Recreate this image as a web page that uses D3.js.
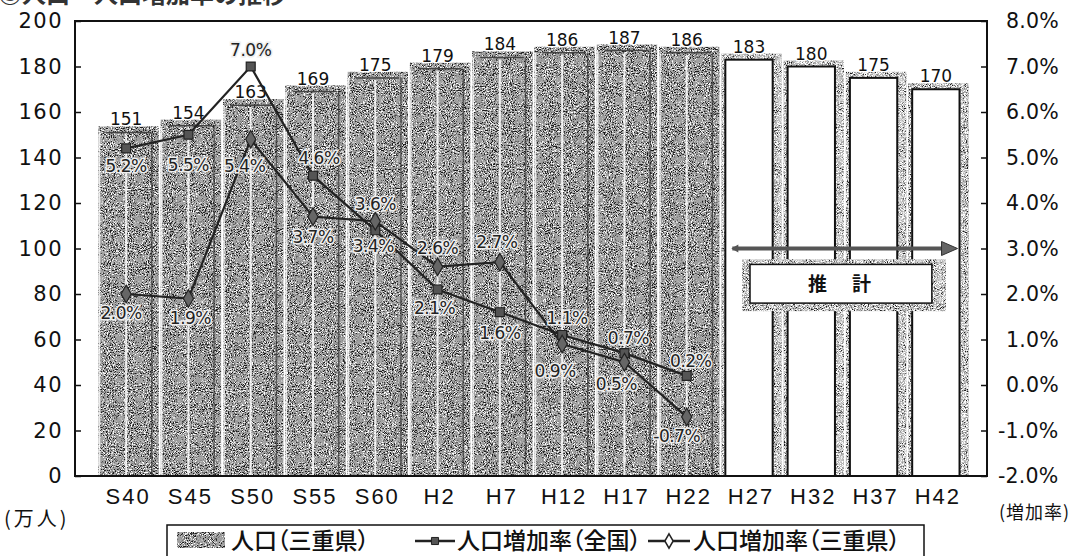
<!DOCTYPE html>
<html><head><meta charset="utf-8">
<script src="https://cdn.jsdelivr.net/npm/d3@7"></script>
<style>
html,body{margin:0;padding:0;background:#fff;}
svg{display:block;}
</style></head>
<body>
<svg id="chart" width="1072" height="556"></svg>
<script>
// ---- data ----
const categories = ["S40","S45","S50","S55","S60","H2","H7","H12","H17","H22","H27","H32","H37","H42"];
const population = [151,154,163,169,175,179,184,186,187,186,183,180,175,170];
const projectionFrom = "H27";
const rateCategories = ["S40","S45","S50","S55","S60","H2","H7","H12","H17","H22"];
const nationalRate = [5.2,5.5,7.0,4.6,3.4,2.1,1.6,1.1,0.7,0.2];
const mieRate = [2.0,1.9,5.4,3.7,3.6,2.6,2.7,0.9,0.5,-0.7];
const leftTicks = [0,20,40,60,80,100,120,140,160,180,200];
const rightTicks = [-2,-1,0,1,2,3,4,5,6,7,8];
const legendLabels = ["人口（三重県）","人口増加率（全国）","人口増加率（三重県）"];
const titleText = "◎人口・人口増加率の推移";
const leftUnit = "(万人)";
const rightUnit = "(増加率)";
const projectionLabel = "推　計";
// label placement (layout only)
const natLabelOffset = [[0,18],[0,30],[0,-16],[6,-18],[-2,16],[-3,19],[0,21],[5,-17],[4,-15],[4,-15]];
const mieLabelOffset = [[-5,19],[2,19],[-6,27],[0,20],[0,-17],[0,-19],[-3,-20],[-7,27],[-8,22],[-10,19]];

const svg = d3.select("#chart");
const defs = svg.append("defs");
function grain(id, darkA, darkB, lightA, lightB, seed){
  const f = defs.append("filter").attr("id",id).attr("x",0).attr("y",0).attr("width",1).attr("height",1)
    .attr("color-interpolation-filters","sRGB");
  f.append("feTurbulence").attr("type","fractalNoise").attr("baseFrequency",0.95).attr("numOctaves",2).attr("seed",seed).attr("result","n");
  f.append("feColorMatrix").attr("in","n").attr("type","matrix")
    .attr("values",`0 0 0 0 0.1  0 0 0 0 0.1  0 0 0 0 0.1  ${darkA} 0 0 0 ${darkB}`).attr("result","dark");
  f.append("feColorMatrix").attr("in","n").attr("type","matrix")
    .attr("values",`0 0 0 0 1  0 0 0 0 1  0 0 0 0 1  0 ${lightA} 0 0 ${lightB}`).attr("result","light");
  f.append("feComposite").attr("in","dark").attr("in2","SourceGraphic").attr("operator","in").attr("result","d2");
  f.append("feComposite").attr("in","light").attr("in2","SourceGraphic").attr("operator","in").attr("result","l2");
  const fm = f.append("feMerge");
  fm.append("feMergeNode").attr("in","SourceGraphic");
  fm.append("feMergeNode").attr("in","l2");
  fm.append("feMergeNode").attr("in","d2");
}
grain("grain", 7, -3.75, -7, 3.3, 5);
grain("grainLight", 6, -3.4, -6, 3.4, 9);

const L = 75, R = 987, T = 21, B = 476;
const x = d3.scaleBand().domain(categories).range([95,967]).paddingInner(0.24).paddingOuter(0.12);
const y = d3.scaleLinear().domain([0,200]).range([B,T]);
const y2 = d3.scaleLinear().domain([-2,8]).range([B,T]);
const bw = x.bandwidth();
const projIdx = categories.indexOf(projectionFrom);
const cx = c => x(c) + bw/2;

const font = "'DejaVu Sans', sans-serif";
const cjk = "'Noto Sans CJK JP', sans-serif";

// title (cut at the top, as in the scan)
svg.append("text").attr("x",-2).attr("y",3).attr("font-family",cjk).attr("font-size",24).attr("font-weight",700)
  .attr("fill","#333").text(titleText);

const data = categories.map((c,i)=>({c, v:population[i], proj:i>=projIdx}));

// shadows
svg.append("g").selectAll("rect").data(data).join("rect")
  .attr("x",d=>x(d.c)-4).attr("y",d=>y(d.v)-6).attr("width",bw+13).attr("height",d=>B-y(d.v)+6)
  .attr("fill",d=>d.proj?"#b0b0b0":"#a0a0a0").attr("filter",d=>d.proj?"url(#grainLight)":"url(#grain)");

// bars
const gb = svg.append("g");
gb.selectAll("rect").data(data).join("rect")
  .attr("x",d=>x(d.c)).attr("y",d=>y(d.v)).attr("width",bw).attr("height",d=>B-y(d.v))
  .attr("fill",d=>d.proj?"#fff":"#a0a0a0")
  .attr("stroke",d=>d.proj?"#111":"none").attr("stroke-width",2)
  .attr("filter",d=>d.proj?null:"url(#grain)");
// scan stripes on grey bars
const hist = data.filter(d=>!d.proj);
gb.selectAll("line.c").data(hist).join("line").attr("class","c")
  .attr("x1",d=>cx(d.c)).attr("x2",d=>cx(d.c)).attr("y1",d=>y(d.v)+2).attr("y2",B)
  .attr("stroke","#fff").attr("stroke-width",2).attr("opacity",0.85);
gb.selectAll("line.l").data(hist).join("line").attr("class","l")
  .attr("x1",d=>x(d.c)-3).attr("x2",d=>x(d.c)-3).attr("y1",d=>y(d.v)).attr("y2",B)
  .attr("stroke","#fff").attr("stroke-width",1.5).attr("opacity",0.8);
gb.selectAll("line.r").data(hist).join("line").attr("class","r")
  .attr("x1",d=>x(d.c)+bw+2).attr("x2",d=>x(d.c)+bw+2).attr("y1",d=>y(d.v)).attr("y2",B)
  .attr("stroke","#333").attr("stroke-width",1.5).attr("opacity",0.7);
gb.selectAll("line.t").data(hist).join("line").attr("class","t")
  .attr("x1",d=>x(d.c)+4).attr("x2",d=>x(d.c)+bw).attr("y1",d=>y(d.v)).attr("y2",d=>y(d.v))
  .attr("stroke","#444").attr("stroke-width",1.5);

// bar value labels
svg.append("g").selectAll("text").data(data).join("text")
  .attr("x",d=>cx(d.c)).attr("y",d=>y(d.v)-7).attr("text-anchor","middle")
  .attr("font-family",font).attr("font-size",17).attr("fill","#111")
  .attr("stroke","#fff").attr("stroke-width",2.5).attr("paint-order","stroke")
  .text(d=>d.v);

// lines
const natData = rateCategories.map((c,i)=>({c,v:nationalRate[i],o:natLabelOffset[i]}));
const mieData = rateCategories.map((c,i)=>({c,v:mieRate[i],o:mieLabelOffset[i]}));
const line = d3.line().x(d=>cx(d.c)).y(d=>y2(d.v));
svg.append("path").datum(natData).attr("d",line).attr("fill","none").attr("stroke","#222").attr("stroke-width",2.2);
svg.append("path").datum(mieData).attr("d",line).attr("fill","none").attr("stroke","#222").attr("stroke-width",2.2);
svg.append("g").selectAll("path").data(natData).join("path")
  .attr("d",d3.symbol(d3.symbolSquare,80)).attr("transform",d=>`translate(${cx(d.c)},${y2(d.v)})`)
  .attr("fill","#555").attr("stroke","#222").attr("stroke-width",1.2);
svg.append("g").selectAll("path").data(mieData).join("path")
  .attr("d",d3.symbol(d3.symbolDiamond,90)).attr("transform",d=>`translate(${cx(d.c)},${y2(d.v)})`)
  .attr("fill","#666").attr("stroke","#222").attr("stroke-width",1.2);

function pctLabels(arr){
  svg.append("g").selectAll("text").data(arr).join("text")
    .attr("x",d=>cx(d.c)+d.o[0]).attr("y",d=>y2(d.v)+d.o[1]).attr("dy","0.35em").attr("text-anchor","middle")
    .attr("font-family",font).attr("font-size",17).attr("fill","#222").attr("letter-spacing",-0.5)
    .attr("stroke","#eee").attr("stroke-width",3).attr("paint-order","stroke")
    .text(d=>d.v.toFixed(1)+"%");
}
pctLabels(natData); pctLabels(mieData);

// projection arrow + box
const ax1 = x(projectionFrom)+7, ax2 = x("H42")+bw-2;
const ay = y2(3);
svg.append("line").attr("x1",ax1).attr("x2",ax2-12).attr("y1",ay).attr("y2",ay).attr("stroke","#555").attr("stroke-width",4);
svg.append("path").attr("d",`M${ax2-16},${ay-7}L${ax2},${ay}L${ax2-16},${ay+7}Z`).attr("fill","#666").attr("stroke","#333");
svg.append("path").attr("d",`M${ax1+6},${ay-4}L${ax1-1},${ay}L${ax1+6},${ay+4}`).attr("fill","#555");
const bx1 = cx(projectionFrom)+1, bx2 = cx("H42")-4, by1 = y2(2.65), by2 = y2(1.8);
svg.append("rect").attr("x",bx1-8).attr("y",by1-5).attr("width",bx2-bx1+22).attr("height",by2-by1+13)
  .attr("fill","#b0b0b0").attr("filter","url(#grainLight)");
svg.append("rect").attr("x",bx1).attr("y",by1).attr("width",bx2-bx1).attr("height",by2-by1)
  .attr("fill","#fff").attr("stroke","#111").attr("stroke-width",1.5);
svg.append("text").attr("x",(bx1+bx2)/2).attr("y",(by1+by2)/2).attr("dy","0.36em").attr("text-anchor","middle")
  .attr("font-family",cjk).attr("font-size",19).attr("font-weight",700).attr("letter-spacing",3).attr("fill","#111")
  .text(projectionLabel);

// frame
svg.append("rect").attr("x",L).attr("y",T).attr("width",R-L).attr("height",B-T).attr("fill","none").attr("stroke","#111").attr("stroke-width",2);

// left axis
const gl = svg.append("g").attr("transform",`translate(${L},0)`)
  .call(d3.axisLeft(y).tickValues(leftTicks).tickSize(-6).tickPadding(12).tickFormat(d3.format("d")));
gl.select(".domain").remove();
gl.selectAll("line").attr("stroke","#111").attr("stroke-width",1.5);
gl.selectAll("text").attr("font-family",font).attr("font-size",21).attr("fill","#111").attr("letter-spacing",1.5);

// right axis
const gr = svg.append("g").attr("transform",`translate(${R},0)`)
  .call(d3.axisRight(y2).tickValues(rightTicks).tickSize(-6).tickPadding(19).tickFormat(d=>d.toFixed(1)+"%"));
gr.select(".domain").remove();
gr.selectAll("line").attr("stroke","#111").attr("stroke-width",1.5);
gr.selectAll("text").attr("font-family",font).attr("font-size",20.5).attr("fill","#111").attr("letter-spacing",0.2)
  .attr("dx",d=>d<0?-8:0);

// bottom axis
const gx = svg.append("g").attr("transform",`translate(0,${B})`)
  .call(d3.axisBottom(x).tickSize(0).tickPadding(12));
gx.select(".domain").remove();
gx.selectAll("text").attr("font-family","'Liberation Sans Narrow','Liberation Sans',sans-serif").attr("font-size",22)
  .attr("letter-spacing",2).attr("fill","#111").attr("dx",2);

// unit labels
svg.append("text").attr("x",4).attr("y",526).attr("font-family",cjk).attr("font-size",20).attr("letter-spacing",3).attr("fill","#111").text(leftUnit);
svg.append("text").attr("x",999).attr("y",519).attr("font-family",cjk).attr("font-size",18).attr("letter-spacing",1).attr("fill","#111").text(rightUnit);

// legend
const lg = svg.append("g");
lg.append("rect").attr("x",167).attr("y",525).attr("width",757).attr("height",40).attr("fill","#fff").attr("stroke","#111").attr("stroke-width",1.5);
lg.append("rect").attr("x",177).attr("y",532).attr("width",48).attr("height",16).attr("fill","#a0a0a0").attr("filter","url(#grain)");
const ly = 541;
const lt = (xx,s,anchor)=>lg.append("text").attr("x",xx).attr("y",ly).attr("dy","0.36em").attr("font-family",cjk)
  .attr("text-anchor",anchor||"start").style("font-feature-settings","'palt'")
  .attr("font-size",23).attr("font-weight",500).attr("fill","#111").text(s);
lt(231, legendLabels[0]);
const t2 = lt(641, legendLabels[1], "end");
const t2start = 641 - t2.node().getComputedTextLength();
lg.append("line").attr("x1",t2start-42).attr("x2",t2start-2).attr("y1",ly).attr("y2",ly).attr("stroke","#222").attr("stroke-width",2.5);
lg.append("path").attr("d",d3.symbol(d3.symbolSquare,50)).attr("transform",`translate(${t2start-22},${ly})`).attr("fill","#555").attr("stroke","#222");
lg.append("line").attr("x1",648).attr("x2",690).attr("y1",ly).attr("y2",ly).attr("stroke","#222").attr("stroke-width",2.5);
lg.append("path").attr("d",d3.symbol(d3.symbolDiamond,60)).attr("transform",`translate(669,${ly})`).attr("fill","#fff").attr("stroke","#222").attr("stroke-width",1.5);
lt(693, legendLabels[2]);
</script>
</body></html>
